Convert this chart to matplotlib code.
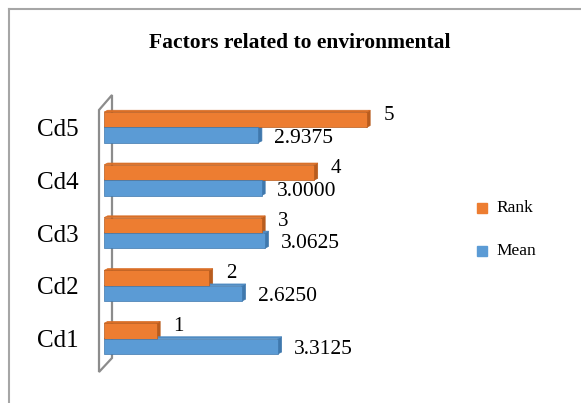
import matplotlib.pyplot as plt
from matplotlib.patches import Polygon
from matplotlib.lines import Line2D

# data
cats = ["Cd1", "Cd2", "Cd3", "Cd4", "Cd5"]
rank = [1, 2, 3, 4, 5]
mean = [3.3125, 2.6250, 3.0625, 3.0000, 2.9375]

orange = "#ED7D31"
blue = "#5B9BD5"
W, H = 581, 403

plt.rcParams['font.family'] = ['Liberation Serif', 'DejaVu Serif']

fig = plt.figure(figsize=(W / 100, H / 100), dpi=100)
ax = fig.add_axes([104 / W, 38 / H, 315 / W, 264 / H])

def fx(px):
    return px / W

def fy(py):
    return 1 - py / H

# frame of the chart (only left and top visible in the crop)
fig.add_artist(Line2D([fx(9), fx(9)], [fy(9), 0], color="#a6a6a6", lw=1.5))
fig.add_artist(Line2D([fx(9), 1], [fy(9), fy(9)], color="#a6a6a6", lw=1.5))

# 3d side wall
wall = Polygon([(fx(99), fy(110)), (fx(112), fy(95)), (fx(112), fy(358)), (fx(99), fy(372))],
               closed=True, transform=fig.transFigure, facecolor="white",
               edgecolor="#8c8c8c", lw=1.6, zorder=0)
fig.add_artist(wall)

y = list(range(len(cats)))
h = 0.29
dx, dy = 0.07, 0.035  # depth of the fake 3d faces
series = [(rank, h / 2, orange, "#b85c1e", "#d96e26"), (mean, -h / 2, blue, "#3f78ad", "#4f8bc2")]
for vals, off, col, dark, mid in series:
    ax.barh([v + off for v in y], vals, height=h, color=col, edgecolor=dark, lw=0.5, zorder=3)
    for i in y:
        x1 = vals[i]
        b, t = i + off - h / 2, i + off + h / 2
        ax.add_patch(Polygon([(x1, b), (x1 + dx, b + dy), (x1 + dx, t + dy), (x1, t)],
                             closed=True, facecolor=dark, edgecolor=dark, lw=0.5, zorder=2))
        ax.add_patch(Polygon([(0, t), (dx, t + dy), (x1 + dx, t + dy), (x1, t)],
                             closed=True, facecolor=mid, edgecolor=mid, lw=0.5, zorder=2))

for i in y:
    ax.text(rank[i] + 0.42, i + h / 2 + 0.08, str(rank[i]), ha="center", va="center", fontsize=15)
    ax.text(mean[i] + 0.3, i - h / 2 - 0.06, "%.4f" % mean[i], ha="left", va="center", fontsize=15.5)

ax.set_xlim(0, 6)
ax.set_ylim(-0.5, 4.5)
ax.set_yticks(y)
ax.set_yticklabels(cats, fontsize=18)
ax.tick_params(axis="y", length=0, pad=18)
ax.set_xticks([])
for s in ax.spines.values():
    s.set_visible(False)
ax.patch.set_alpha(0)

fig.text(fx(300), fy(43), "Factors related to environmental", ha="center", va="center",
         fontsize=15.5, fontweight="bold")

# legend
for lbl, col, py in [("Rank", orange, 208), ("Mean", blue, 251)]:
    fig.patches.append(plt.Rectangle((fx(477), fy(py) - 5 / H), 10 / W, 10 / H,
                                     transform=fig.transFigure, color=col, figure=fig))
    fig.text(fx(496), fy(py), lbl, ha="left", va="center", fontsize=12.5)

fig.savefig("out.png", dpi=100)
